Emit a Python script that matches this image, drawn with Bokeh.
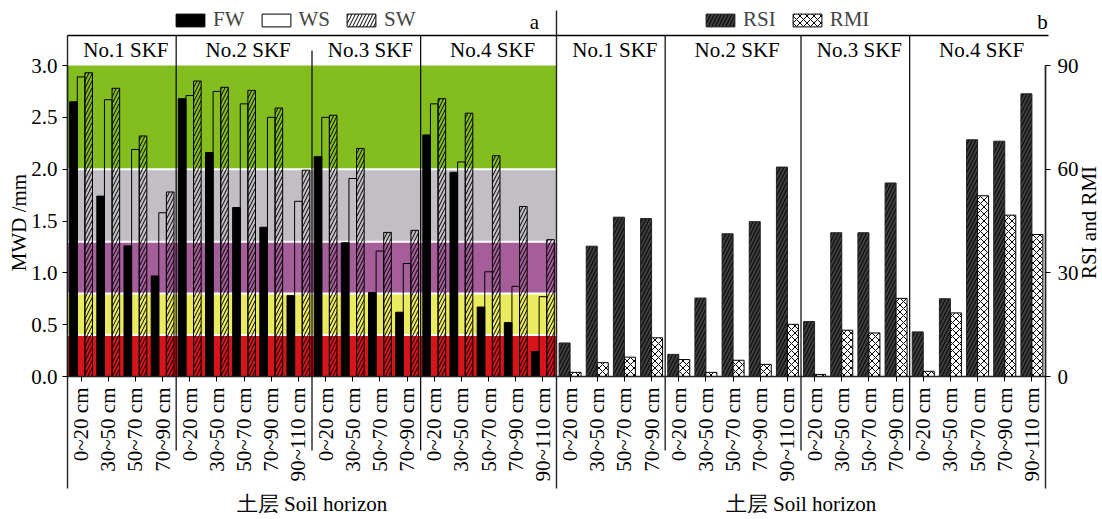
import math
from bokeh.plotting import figure
from bokeh.models import (Range1d, LinearAxis, FixedTicker, PrintfTickFormatter,
                          Legend, LegendItem)
from bokeh.core.properties import value
from bokeh.embed import file_html
from bokeh.resources import INLINE

# ---------------- data ----------------
groups = ["No.1 SKF", "No.2 SKF", "No.3 SKF", "No.4 SKF"]
depths_g1 = ["0~20 cm", "30~50 cm", "50~70 cm", "70~90 cm"]
depths_g2 = ["0~20 cm", "30~50 cm", "50~70 cm", "70~90 cm", "90~110 cm"]
depths_g3 = ["0~20 cm", "30~50 cm", "50~70 cm", "70~90 cm"]
depths_g4 = ["0~20 cm", "30~50 cm", "50~70 cm", "70~90 cm", "90~110 cm"]

# panel a: MWD /mm
FW = [2.65, 1.74, 1.26, 0.97,
      2.68, 2.16, 1.63, 1.44, 0.78,
      2.12, 1.29, 0.81, 0.62,
      2.33, 1.97, 0.67, 0.52, 0.24]
WS = [2.89, 2.67, 2.19, 1.58,
      2.71, 2.75, 2.63, 2.50, 1.69,
      2.50, 1.91, 1.21, 1.09,
      2.63, 2.07, 1.01, 0.87, 0.77]
SW = [2.93, 2.78, 2.32, 1.78,
      2.85, 2.79, 2.76, 2.59, 1.99,
      2.52, 2.20, 1.39, 1.41,
      2.68, 2.54, 2.13, 1.64, 1.32]

# panel b: RSI and RMI
RSI = [9.7, 37.7, 46.1, 45.7,
       6.4, 22.7, 41.3, 44.8, 60.6,
       15.9, 41.6, 41.6, 56.0,
       12.9, 22.5, 68.5, 68.1, 81.8]
RMI = [1.2, 4.0, 5.6, 11.2,
       4.9, 1.2, 4.7, 3.5, 15.1,
       0.6, 13.4, 12.6, 22.6,
       1.5, 18.4, 52.3, 46.7, 41.1]

# MWD classes (background bands)
band_lo = [0.0, 0.4, 0.8, 1.3, 2.0]
band_hi = [0.4, 0.8, 1.3, 2.0, 3.0]
band_colors = ["#D7141A", "#EBEB60", "#A65E9B", "#C2BEC3", "#84BD1E"]

mwd_ticks = [0.0, 0.5, 1.0, 1.5, 2.0, 2.5, 3.0]
index_ticks = [0, 30, 60, 90]

# ---------------- layout helpers ----------------
FONT = "Liberation Serif"
FS = "21px"
W, H = 1100, 518
PAGE = 0
X0_PX, X1_PX = 67, 1045      # page px of the two panels' outer edges
Y0_PX, Y3_PX = 376, 65       # page px of MWD 0 and 3.0
depth_groups = [depths_g1, depths_g2, depths_g3, depths_g4]
sizes = [len(g) for g in depth_groups]
NA = sum(sizes)              # 18 categories per panel
NT = 2 * NA
CAT = (X1_PX - X0_PX) / NT
YS = (Y0_PX - Y3_PX) / 3.0


def xd(px):
    return -0.5 + (px - X0_PX) / CAT


def yd(py):
    return (Y0_PX - py) / YS


p = figure(width=W, height=H, output_backend="svg", toolbar_location=None,
           x_range=Range1d(xd(PAGE), xd(PAGE + W)),
           y_range=Range1d(yd(PAGE + H), yd(PAGE)),
           x_axis_location=None, y_axis_location=None, min_border=0)
p.extra_y_ranges = {"b": Range1d(30 * yd(PAGE + H), 30 * yd(PAGE))}
p.xgrid.visible = False
p.ygrid.visible = False
p.outline_line_color = None
p.background_fill_color = "white"
p.border_fill_color = "white"

# background classes of panel a
p.quad(left=-0.5, right=NA - 0.5, bottom=band_lo, top=band_hi,
       fill_color=band_colors, line_color=None)
p.segment(x0=-0.5, x1=NA - 0.5, y0=band_lo[1:], y1=band_lo[1:],
          line_color="white", line_width=2)

xa = list(range(NA))
xb = [NA + i for i in range(NA)]
bwa = 0.28
bwb = 0.405

r_fw = p.vbar(x=[x - bwa for x in xa], width=bwa, top=FW, bottom=0,
              fill_color="black", line_color="black", line_width=1)
r_ws = p.vbar(x=xa, width=bwa, top=WS, bottom=0,
              fill_alpha=0, line_color="black", line_width=1)
r_sw = p.vbar(x=[x + bwa for x in xa], width=bwa, top=SW, bottom=0,
              fill_alpha=0, line_color="black", line_width=1,
              hatch_pattern="/", hatch_color="black", hatch_scale=7, hatch_weight=1)

r_rsi = p.vbar(x=[x - bwb / 2 for x in xb], width=bwb, top=RSI, bottom=0,
               y_range_name="b", fill_color="#3e3e3e", line_color="#222222",
               line_width=1, hatch_pattern="/", hatch_color="black",
               hatch_scale=7, hatch_weight=1)
r_rmi = p.vbar(x=[x + bwb / 2 for x in xb], width=bwb, top=RMI, bottom=0,
               y_range_name="b", fill_color="white", line_color="black",
               line_width=1, hatch_pattern="x", hatch_color="black",
               hatch_scale=7, hatch_weight=1)

# group separators
bounds_a = []
acc = 0
for s in sizes[:-1]:
    acc += s
    bounds_a.append(acc - 0.5)
sep_x = bounds_a + [NA + b for b in bounds_a]
sep_top = [yd(35), yd(50), yd(35)] + [yd(35)] * 3
p.segment(x0=sep_x, x1=sep_x, y0=sep_top, y1=[yd(450)] * len(sep_x),
          line_color="black", line_width=1.2)
# outer frame lines: left edge, panel divider, right edge, top line
p.segment(x0=[-0.5, NA - 0.5, NT - 0.5], x1=[-0.5, NA - 0.5, NT - 0.5],
          y0=[yd(35), yd(10), yd(65)], y1=[yd(488)] * 3,
          line_color="#222222", line_width=1.4)
p.segment(x0=[-0.5], x1=[xd(1048)], y0=[yd(35)], y1=[yd(35)],
          line_color="black", line_width=1.5)

# group titles
centers = []
acc = 0
for s in sizes:
    centers.append(acc + s / 2 - 0.5 + 0.15)
    acc += s
p.text(x=centers + [NA + c for c in centers], y=[yd(49)] * 8,
       text=groups + groups, text_align="center", text_baseline="middle",
       text_font=value(FONT), text_font_size=FS, text_color="black")
p.text(x=[xd(534), xd(1042)], y=[yd(21)] * 2, text=["a", "b"],
       text_align="center", text_baseline="middle",
       text_font=value(FONT), text_font_size=FS, text_color="black")
p.text(x=[(NA - 1) / 2, NA + (NA - 1) / 2], y=[yd(503)] * 2,
       text=["土层 Soil horizon", "土层 Soil horizon"],
       text_align="center", text_baseline="middle",
       text_font=value(FONT), text_font_size=FS, text_color="black")
# axis titles (both read bottom to top)
p.text(x=[xd(18), xd(1088)], y=[yd(222)] * 2, text=["MWD /mm", "RSI and RMI"],
       angle=math.pi / 2, text_align="center", text_baseline="middle",
       text_font=value(FONT), text_font_size=FS, text_color="black")

# axes
def style(ax):
    ax.major_label_text_font = FONT
    ax.major_label_text_font_size = FS
    ax.major_label_text_color = "black"
    ax.major_tick_in = 0
    ax.major_tick_out = 5
    ax.major_tick_line_color = "black"
    ax.minor_tick_line_color = None
    ax.axis_line_color = "#222222"
    ax.axis_line_width = 1.4


ya = LinearAxis(ticker=FixedTicker(ticks=mwd_ticks), fixed_location=-0.5,
                bounds=(0, 3.0), formatter=PrintfTickFormatter(format="%.1f"))
style(ya)
ya.major_label_standoff = 5
p.add_layout(ya, "left")

yb = LinearAxis(y_range_name="b", ticker=FixedTicker(ticks=index_ticks),
                fixed_location=NT - 0.5, bounds=(0, 90))
style(yb)
yb.major_label_standoff = 7
p.add_layout(yb, "right")

all_labels = [d for g in depth_groups for d in g]
all_labels = all_labels + all_labels
xax = LinearAxis(ticker=FixedTicker(ticks=list(range(NT))), fixed_location=0,
                 bounds=(-0.5, NT - 0.5),
                 major_label_overrides={i: all_labels[i] for i in range(NT)},
                 major_label_orientation=math.pi / 2)
style(xax)
xax.major_label_standoff = 6
p.add_layout(xax, "below")

# legends
def make_legend(items, loc):
    lg = Legend(items=items, location=loc, orientation="horizontal",
                glyph_width=36, glyph_height=16, label_standoff=5, spacing=13,
                padding=0, margin=0, border_line_color=None,
                background_fill_alpha=0, label_text_font=FONT,
                label_text_font_size=FS, label_height=16)
    return lg

lga = make_legend([LegendItem(label="FW", renderers=[r_fw]),
                   LegendItem(label="WS", renderers=[r_ws]),
                   LegendItem(label="SW", renderers=[r_sw])], (172 - PAGE, H - (32 - PAGE)))
lgb = make_legend([LegendItem(label="RSI", renderers=[r_rsi]),
                   LegendItem(label="RMI", renderers=[r_rmi])], (702 - PAGE, H - (32 - PAGE)))
p.add_layout(lga)
p.add_layout(lgb)

open("out.html", "w").write(file_html(p, INLINE))
